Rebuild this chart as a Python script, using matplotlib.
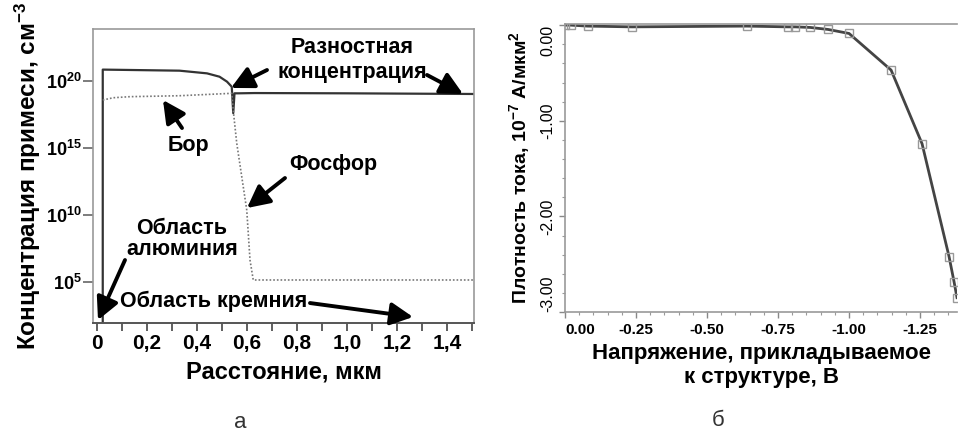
import numpy as np
import matplotlib
matplotlib.use('Agg')
import matplotlib.pyplot as plt
from matplotlib.ticker import FixedLocator, MultipleLocator, NullLocator, FuncFormatter

plt.rcParams['font.family'] = ['Liberation Sans', 'DejaVu Sans']
plt.rcParams['mathtext.fontset'] = 'custom'
plt.rcParams['mathtext.rm'] = 'Liberation Sans'
plt.rcParams['mathtext.bf'] = 'Liberation Sans:bold'
plt.rcParams['mathtext.it'] = 'Liberation Sans:italic'

# ----------------------
# (а) профиль концентрации примеси
# ----------------------
# разностная концентрация (сплошная), lg N
dist_diff = [0.023, 0.023, 0.10, 0.33, 0.44, 0.49, 0.52, 0.539, 0.545, 0.550, 0.565, 0.63, 1.0, 1.51]
lg_diff = [1.0, 20.85, 20.83, 20.77, 20.57, 20.32, 19.95, 19.57, 17.6, 19.08, 19.08, 19.1, 19.08, 19.03]

# бор / фосфор (пунктир), lg N
dist_dot = [0.023, 0.065, 0.132, 0.33, 0.539, 0.545, 0.559, 0.579, 0.599, 0.612, 0.625, 1.0, 1.51]
lg_dot = [18.58, 18.75, 18.83, 18.9, 19.08, 17.8, 15.35, 12.86, 10.37, 6.64, 5.15, 5.15, 5.15]

dist_ticks = [0, 0.2, 0.4, 0.6, 0.8, 1.0, 1.2, 1.4]
lg_ticks = [5, 10, 15, 20]

# ----------------------
# (б) ВАХ
# ----------------------
volt = [0.0, -0.02, -0.08, -0.236, -0.64, -0.785, -0.81, -0.863, -0.926, -1.0, -1.148, -1.257, -1.352, -1.37, -1.38]
curr = [0.0, 0.0, -0.01, -0.018, -0.01, -0.018, -0.018, -0.024, -0.045, -0.087, -0.47, -1.24, -2.42, -2.69, -2.85]
volt_ticks = [0.0, -0.25, -0.5, -0.75, -1.0, -1.25]
curr_ticks = [0.0, -1.0, -2.0, -3.0]

fig = plt.figure(figsize=(9.58, 4.32), dpi=100)

# ---- панель а ----
ax1 = fig.add_axes([93 / 958, 1 - 323 / 432, 381 / 958, 294 / 432])
ax1.plot(dist_diff, 10.0 ** np.array(lg_diff), color='#333333', lw=1.6)
ax1.plot(dist_dot, 10.0 ** np.array(lg_dot), color='#777777', lw=1.2, ls=(0, (1, 1.2)))
ax1.set_yscale('log')
ax1.set_xlim(-0.016, 1.508)
ax1.set_ylim(10 ** 1.94, 10 ** 23.88)

ax1.xaxis.set_major_locator(FixedLocator(dist_ticks))
ax1.xaxis.set_minor_locator(MultipleLocator(0.1))
ax1.xaxis.set_major_formatter(FuncFormatter(lambda v, p: '0' if abs(v) < 1e-9 else f'{v:.1f}'.replace('.', ',')))
ax1.yaxis.set_major_locator(FixedLocator([10.0 ** k for k in lg_ticks]))
ax1.yaxis.set_minor_locator(NullLocator())
ax1.yaxis.set_major_formatter(FuncFormatter(lambda v, p: r'$\mathbf{10^{%d}}$' % round(np.log10(v))))
ax1.tick_params(axis='x', which='both', direction='out', length=6, width=1.2, color='#444444',
                labelsize=15, pad=2)
ax1.tick_params(axis='y', which='major', direction='out', length=7, width=1.2, color='#666666',
                labelsize=13, pad=1)
for lab in ax1.get_xticklabels():
    lab.set_fontweight('bold')
for side in ['top', 'right', 'left']:
    ax1.spines[side].set_color('#999999')
    ax1.spines[side].set_linewidth(1.2)
ax1.spines['bottom'].set_color('#555555')
ax1.spines['bottom'].set_linewidth(1.4)

ax1.set_xlabel('Расстояние, мкм', fontsize=17, fontweight='bold', labelpad=5)
ax1.set_ylabel('Концентрация примеси, см$^{\\mathbf{-3}}$', fontsize=17.5, fontweight='bold', labelpad=2)

arrow = dict(arrowstyle='-|>,head_length=0.75,head_width=0.38', color='black', lw=2.8,
             mutation_scale=18, shrinkA=0, shrinkB=0)
lbl = dict(fontsize=15.5, fontweight='bold', ha='center', va='center')

ax1.text(1.02, 10 ** 21.57, 'Разностная\nконцентрация', linespacing=1.2, **lbl)
ax1.annotate('', xy=(0.536, 10 ** 19.48), xytext=(0.68, 10 ** 20.82), arrowprops=arrow)
ax1.annotate('', xy=(1.464, 10 ** 19.03), xytext=(1.32, 10 ** 20.45), arrowprops=arrow)
ax1.text(0.364, 10 ** 15.15, 'Бор', **lbl)
ax1.annotate('', xy=(0.264, 10 ** 18.58), xytext=(0.34, 10 ** 16.49), arrowprops=arrow)
ax1.text(0.944, 10 ** 13.8, 'Фосфор', **lbl)
ax1.annotate('', xy=(0.6, 10 ** 10.52), xytext=(0.752, 10 ** 12.76), arrowprops=arrow)
ax1.text(0.34, 10 ** 8.21, 'Область\nалюминия', linespacing=1.0, **lbl)
ax1.annotate('', xy=(0.004, 10 ** 2.16), xytext=(0.112, 10 ** 6.64), arrowprops=arrow)
ax1.text(0.092, 10 ** 3.58, 'Область кремния', fontsize=15.5, fontweight='bold', ha='left', va='center')
ax1.annotate('', xy=(1.264, 10 ** 2.39), xytext=(0.852, 10 ** 3.43), arrowprops=arrow)

# ---- панель б ----
ax2 = fig.add_axes([565 / 958, 1 - 312 / 432, 392 / 958, 288 / 432])
ax2.plot(volt, curr, color='#444444', lw=2.0, marker='s', ms=6, mfc='none', mec='#999999', mew=1.0)
ax2.set_xlim(0.0, -1.38)
ax2.set_ylim(-3.0, 0.012)

ax2.xaxis.set_major_locator(FixedLocator(volt_ticks))
ax2.xaxis.set_minor_locator(MultipleLocator(0.05))
ax2.yaxis.set_major_locator(FixedLocator(curr_ticks))
ax2.yaxis.set_minor_locator(MultipleLocator(0.2))
fmt = FuncFormatter(lambda v, p: '0.00' if abs(v) < 1e-9 else f'{v:.2f}')
ax2.xaxis.set_major_formatter(fmt)
ax2.yaxis.set_major_formatter(fmt)
ax2.tick_params(axis='both', which='major', direction='out', length=4, width=1.0, color='#888888')
ax2.tick_params(axis='both', which='minor', direction='out', length=2.5, width=0.8, color='#999999')
ax2.tick_params(axis='x', labelsize=11, pad=4)
ax2.tick_params(axis='y', labelsize=11.5, pad=3)
for lab in ax2.get_xticklabels():
    lab.set_fontweight('bold')
xl = ax2.get_xticklabels()
xl[0].set_ha('left')
for lab in ax2.get_yticklabels():
    lab.set_rotation(90)
    lab.set_va('center')
yl = ax2.get_yticklabels()
# первая метка (0.00) внутрь сверху, последняя (-3.00) внутрь снизу
yl[0].set_va('top')
yl[-1].set_va('bottom')
for side in ['top', 'left', 'bottom']:
    ax2.spines[side].set_color('#999999')
    ax2.spines[side].set_linewidth(1.2)
ax2.spines['right'].set_visible(False)

ax2.set_xlabel('Напряжение, прикладываемое\nк структуре, В', fontsize=16, fontweight='bold',
               labelpad=4, linespacing=1.2)
ax2.set_ylabel('Плотность тока, 10$^{\\mathbf{-7}}$ А/мкм$^{\\mathbf{2}}$', fontsize=14,
               fontweight='bold', labelpad=6)

fig.text(240 / 958, 1 - 422 / 432, 'а', fontsize=16, color='#333333', ha='center', va='center')
fig.text(718 / 958, 1 - 421 / 432, 'б', fontsize=16, color='#333333', ha='center', va='center')

fig.savefig('out.png', dpi=100)
